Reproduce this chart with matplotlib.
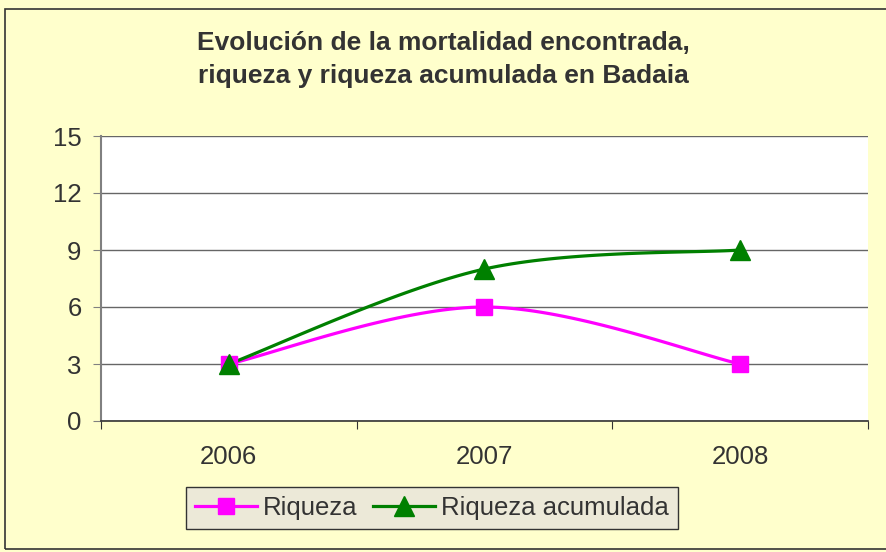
import numpy as np
import matplotlib.pyplot as plt
from matplotlib.patches import Rectangle

years = ['2006', '2007', '2008']
riqueza = [3, 6, 3]
riqueza_acum = [3, 8, 9]

plt.rcParams['font.family'] = ['Liberation Sans', 'DejaVu Sans']


def smooth(x, y, n=40):
    # Catmull-Rom style smoothing, like the spreadsheet "smoothed line"
    x = np.asarray(x, float)
    y = np.asarray(y, float)
    px = np.concatenate([[x[0]], x, [x[-1]]])
    py = np.concatenate([[y[0]], y, [y[-1]]])
    xs, ys = [], []
    for i in range(1, len(px) - 2):
        p0, p1, p2, p3 = [np.array([px[j], py[j]]) for j in (i - 1, i, i + 1, i + 2)]
        c1 = p1 + (p2 - p0) / 6
        c2 = p2 - (p3 - p1) / 6
        t = np.linspace(0, 1, n)[:, None]
        b = (1 - t) ** 3 * p1 + 3 * (1 - t) ** 2 * t * c1 + 3 * (1 - t) * t ** 2 * c2 + t ** 3 * p2
        xs.extend(b[:, 0])
        ys.extend(b[:, 1])
    return np.array(xs), np.array(ys)


fig = plt.figure(figsize=(8.87, 5.52), dpi=100, facecolor='#FFFFCC')
fig.patches.append(Rectangle((5 / 887, 3 / 552), 1, 540 / 552, transform=fig.transFigure,
                             fill=False, edgecolor='#333333', linewidth=1.2))

ax = fig.add_axes([101 / 887, 1 - 421 / 552, 767 / 887, 285 / 552])
ax.set_facecolor('white')

xpos = np.arange(len(years)) + 0.5
pink = '#FF00FF'
green = '#008000'
fs = 18.5

sx, sy = smooth(xpos, riqueza)
ax.plot(sx, sy, color=pink, linewidth=2.3, zorder=3)
ax.plot(xpos, riqueza, linestyle='none', marker='s', markersize=12, color=pink, zorder=4)

gx, gy = smooth(xpos, riqueza_acum)
ax.plot(gx, gy, color=green, linewidth=2.3, zorder=3)
ax.plot(xpos, riqueza_acum, linestyle='none', marker='^', markersize=14, color=green, zorder=5)

ax.set_xlim(0, len(years))
ax.set_ylim(0, 15)
ax.set_yticks([0, 3, 6, 9, 12, 15])
ax.yaxis.grid(True, color='#666666', linewidth=1)
ax.set_axisbelow(True)

ax.set_xticks(np.arange(len(years) + 1))
ax.set_xticklabels([])
ax.set_xticks(xpos, minor=True)
ax.set_xticklabels(years, minor=True)
ax.tick_params(axis='x', which='minor', length=0, pad=17, labelsize=fs, labelcolor='#333333')
ax.tick_params(axis='x', which='major', length=6, color='#333333', direction='out')
ax.tick_params(axis='y', length=6, color='#808080', labelsize=fs, labelcolor='#333333', pad=8)

for s in ['top', 'right']:
    ax.spines[s].set_visible(False)
ax.spines['left'].set_color('#808080')
ax.spines['left'].set_linewidth(1.5)
ax.spines['bottom'].set_color('#333333')
ax.spines['bottom'].set_linewidth(1.2)

fig.text(0.5, 1 - 43 / 552, 'Evolución de la mortalidad encontrada,', ha='center', va='center',
         fontsize=19, fontweight='bold', color='#333333')
fig.text(0.5, 1 - 76 / 552, 'riqueza y riqueza acumulada en Badaia', ha='center', va='center',
         fontsize=19, fontweight='bold', color='#333333')

h1, = ax.plot([], [], color=pink, linewidth=2.3, marker='s', markersize=12)
h2, = ax.plot([], [], color=green, linewidth=2.3, marker='^', markersize=14)
leg = fig.legend([h1, h2], ['Riqueza', 'Riqueza acumulada'], ncol=2,
                 loc='center', bbox_to_anchor=(432 / 887, 1 - 508 / 552),
                 fontsize=fs, frameon=True, fancybox=False, handlelength=2.4,
                 handletextpad=0.25, columnspacing=0.6, borderpad=0.35, borderaxespad=0)
leg.get_frame().set_facecolor('#ECE9D8')
leg.get_frame().set_edgecolor('#333333')
leg.get_frame().set_alpha(1)
for t in leg.get_texts():
    t.set_color('#333333')

fig.savefig('out.png', dpi=100, facecolor=fig.get_facecolor())
